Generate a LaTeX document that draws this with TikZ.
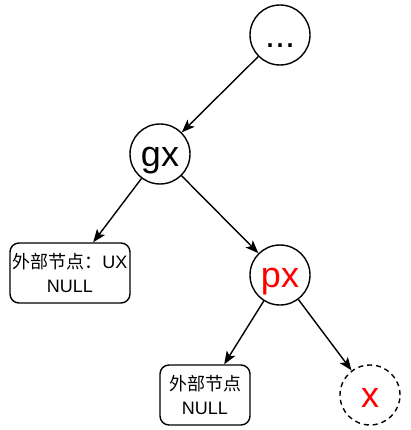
\documentclass[tikz,border=0pt]{standalone}
\usepackage{fontspec}
\setmainfont{Liberation Sans}
\newfontfamily\cjk{Noto Sans CJK SC}
\usetikzlibrary{arrows.meta, positioning}
\newcommand{\bigtxt}{\fontsize{36}{40}\selectfont}
\newcommand{\leaftxt}{\fontsize{18}{24}\selectfont}
\newcommand{\linestrut}{\rule[-0.212em]{0pt}{1.117em}}

\begin{document}
\begin{tikzpicture}[node distance=120pt and 120pt, on grid,
		tnode/.style={circle, draw, line width=1.4pt, minimum size=60pt, inner sep=0pt, font=\bigtxt},
		leaf/.style={rectangle, draw, rounded corners=9pt, line width=1.4pt, minimum height=60pt, inner sep=0pt, align=center, font=\leaftxt},
		edge/.style={line width=1.4pt, -{Stealth[length=13pt,width=10pt,inset=3pt]}}]
	\useasboundingbox (0,0) rectangle (411pt,-430pt);
	\node[tnode] (top) at (280pt,-35pt) {\linestrut...};
	\node[tnode, below left =119pt and 120pt of top] (gx) {\linestrut gx};
		\node[leaf, minimum width=120pt, below left =119pt and 90pt of gx] (ux) {{\cjk 外部节点：}UX\\NULL};
		\node[tnode, text=red, below right=121pt and 120pt of gx] (px) {\linestrut px};
			\node[leaf, minimum width=90pt, below left =120pt and 75pt of px] (nul) {{\cjk 外部节点}\\NULL};
			\node[tnode, dashed, dash pattern=on 5pt off 4pt, text=red, below right=120pt and 90pt of px] (x) {\linestrut x};
	\foreach \from/\to in {top/gx,gx/ux,gx/px,px/nul,px/x}
		\draw[edge] (\from) -- (\to);
\end{tikzpicture}
\end{document}
